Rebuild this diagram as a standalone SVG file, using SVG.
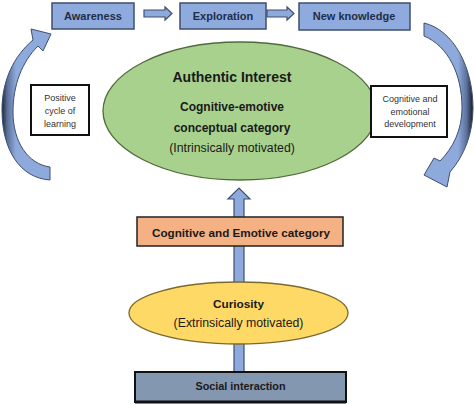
<svg xmlns="http://www.w3.org/2000/svg" width="474" height="404" viewBox="0 0 474 404">
<style>
  text { font-family: "Liberation Sans", Arial, sans-serif; text-anchor: middle; dominant-baseline: central; fill: #1a1a1a; }
  .top { fill: #8FAADC; stroke: #3E4F6E; stroke-width: 1.5; }
  .toptxt { font-size: 11px; font-weight: bold; fill: #1F2E4A; }
  .b { font-weight: bold; }
  .blk { fill: #8EA9DB; stroke: #3E4F6E; stroke-width: 1.2; }
  .note { fill: #ffffff; stroke: #111; stroke-width: 2; }
  .notetxt { font-size: 9px; fill: #333; }
</style>
<defs>
  <linearGradient id="gl" gradientUnits="userSpaceOnUse" x1="0" y1="0" x2="16" y2="0">
    <stop offset="0" stop-color="#0a0a0a"/>
    <stop offset="0.45" stop-color="#5b6f99"/>
    <stop offset="1" stop-color="#8EA9DB"/>
  </linearGradient>
  <linearGradient id="gr" gradientUnits="userSpaceOnUse" x1="474" y1="0" x2="458" y2="0">
    <stop offset="0" stop-color="#0a0a0a"/>
    <stop offset="0.45" stop-color="#5b6f99"/>
    <stop offset="1" stop-color="#8EA9DB"/>
  </linearGradient>
</defs>

<g id="connectors">
  <path id="arr-aw-ex" class="blk" d="M144,10 L165,10 L165,7 L172,13.5 L165,20 L165,17 L144,17 Z"/>
  <path id="arr-ex-nk" class="blk" d="M267,10 L287,10 L287,7 L294,13.5 L287,20 L287,17 L267,17 Z"/>
  <path id="curve-left" fill="url(#gl)" stroke="#3E4F6E" stroke-width="1" d="M50,167 L50,180 C20,178 2,150 2,110 C2,80 14,56 33,40 L31,29 L51,34 L43,51 L38,46 C22,62 13,85 13,112 C13,142 28,164 50,167 Z"/>
  <path id="curve-right" fill="url(#gr)" stroke="#3E4F6E" stroke-width="1" d="M424,23 C454,30 473,68 473,108 C473,134 464,156 450,172 L447,187 L424,175 L434,158 L440,161 C453,148 462,130 462,108 C462,74 448,46 424,36 Z"/>
  <rect id="shaft-soc-cur" class="blk" x="234" y="340" width="10" height="34"/>
  <rect id="shaft-cur-cat" class="blk" x="234" y="244" width="10" height="42"/>
  <path id="arr-cat-ai" class="blk" d="M234,218 L234,199 L228,199 L239,188 L250,199 L244,199 L244,218 Z"/>
</g>

<g id="awareness">
  <rect class="top" x="52" y="3" width="82" height="26"/>
  <text class="toptxt" x="93" y="16">Awareness</text>
</g>
<g id="exploration">
  <rect class="top" x="180" y="3" width="86" height="26"/>
  <text class="toptxt" x="223" y="16">Exploration</text>
</g>
<g id="new-knowledge">
  <rect class="top" x="299" y="3" width="111" height="27"/>
  <text class="toptxt" x="354" y="16">New knowledge</text>
</g>

<g id="authentic-interest">
  <ellipse cx="240" cy="111" rx="137" ry="69" fill="#A9D18E" stroke="#4F6B3A" stroke-width="1.3"/>
  <text class="b" x="232" y="77" font-size="14">Authentic Interest</text>
  <text class="b" x="232" y="107" font-size="12">Cognitive-emotive</text>
  <text class="b" x="232" y="128" font-size="12">conceptual category</text>
  <text x="232" y="148" font-size="12.3">(Intrinsically motivated)</text>
</g>

<g id="positive-cycle">
  <rect class="note" x="31" y="85" width="58" height="50"/>
  <text class="notetxt" x="60" y="98">Positive</text>
  <text class="notetxt" x="60" y="111">cycle of</text>
  <text class="notetxt" x="60" y="124">learning</text>
</g>

<g id="cognitive-emotional-development">
  <rect class="note" x="371" y="86" width="76" height="51"/>
  <text class="notetxt" x="410" y="99">Cognitive and</text>
  <text class="notetxt" x="410" y="112">emotional</text>
  <text class="notetxt" x="410" y="124">development</text>
</g>

<g id="cognitive-emotive-category">
  <rect x="137" y="217" width="206" height="29" fill="#F4B183" stroke="#222" stroke-width="1.5"/>
  <text class="b" x="241" y="232" font-size="11.7">Cognitive and Emotive category</text>
</g>

<g id="curiosity">
  <ellipse cx="238.5" cy="313" rx="109.5" ry="31" fill="#FFD966" stroke="#7A6A30" stroke-width="1.3"/>
  <text class="b" x="238.5" y="304" font-size="11.8">Curiosity</text>
  <text x="238.5" y="323" font-size="12.3">(Extrinsically motivated)</text>
</g>

<g id="social-interaction">
  <rect x="135" y="372" width="211" height="30" fill="#8497B0" stroke="#111" stroke-width="2"/>
  <line x1="135" y1="402" x2="346" y2="402" stroke="#111" stroke-width="3"/>
  <text class="b" x="240.5" y="386" font-size="10.8" fill="#1F2A3A">Social interaction</text>
</g>
</svg>
